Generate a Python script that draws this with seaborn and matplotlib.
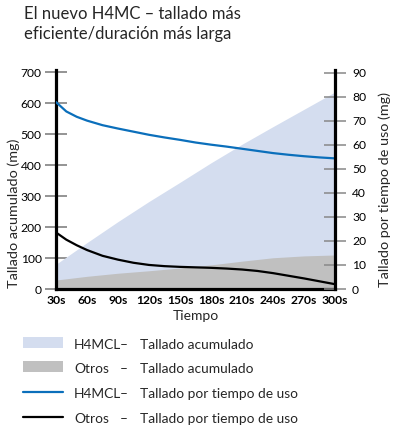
import numpy as np
import pandas as pd
import matplotlib
matplotlib.use("Agg")
import matplotlib.pyplot as plt
import seaborn as sns
from matplotlib.patches import Rectangle
from matplotlib.lines import Line2D

# ---- data ----
fill_time = [30, 60, 90, 120, 150, 180, 210, 240, 270, 300]
h4mcl_cum = [80, 150, 218, 283, 345, 408, 468, 525, 581, 637]      # mg, left axis
otros_cum = [29, 41, 51, 59, 68, 78, 90, 101, 107, 110]            # mg, left axis

line_time = [30, 40, 50, 60, 75, 90, 105, 120, 135, 150, 165, 180, 195,
             210, 225, 240, 255, 270, 285, 300]
h4mcl_rate = [77.7, 73.8, 71.6, 70.0, 68.1, 66.7, 65.4, 64.1, 63.0, 62.0, 60.9,
              60.0, 59.2, 58.3, 57.4, 56.5, 55.8, 55.2, 54.7, 54.3]
otros_rate = [23.5, 20.5, 18.2, 16.2, 13.8, 12.2, 10.9, 10.0, 9.5, 9.2, 9.0,
              8.8, 8.5, 8.1, 7.5, 6.6, 5.5, 4.4, 3.2, 2.0]

x_ticks = [30, 60, 90, 120, 150, 180, 210, 240, 270, 300]
x_tick_labels = ["30s", "60s", "90s", "120s", "150s", "180s", "210s", "240s", "270s", "300s"]
left_ticks = [0, 100, 200, 300, 400, 500, 600, 700]
right_ticks = [0, 10, 20, 30, 40, 50, 60, 70, 80, 90]

title = "El nuevo H4MC – tallado más\neficiente/duración más larga"
legend_names = ["H4MCL", "Otros", "H4MCL", "Otros"]
legend_desc = ["Tallado acumulado", "Tallado acumulado",
               "Tallado por tiempo de uso", "Tallado por tiempo de uso"]

# ---- style ----
sns.set_style("white")
FONT = ["Lato", "DejaVu Sans"]
plt.rcParams["font.family"] = FONT

LIGHT = "#d4ddef"
GRAY = "#c0c0c0"
BLUE = "#0b6fbb"

W, H = 396, 428
fig = plt.figure(figsize=(W / 100, H / 100), dpi=100)
L, R, T, B = 56, 335, 70, 289
ax = fig.add_axes([L / W, 1 - B / H, (R - L) / W, (B - T) / H])
ax2 = ax.twinx()

ymax_left = 700 * (289 - 70) / (289 - 72.5)
ax.set_xlim(30, 300)
ax.set_ylim(0, ymax_left)
ax2.set_ylim(0, ymax_left * 90 / 700)

fill_df = pd.DataFrame({"t": fill_time, "h4": h4mcl_cum, "ot": otros_cum})
ax.fill_between(fill_df["t"], 0, fill_df["h4"], color=LIGHT, lw=0, zorder=1)
ax.fill_between(fill_df["t"], 0, fill_df["ot"], color=GRAY, lw=0, zorder=2)

line_df = pd.DataFrame({"t": line_time, "H4MCL": h4mcl_rate, "Otros": otros_rate})
sns.lineplot(data=line_df, x="t", y="H4MCL", ax=ax2, color=BLUE, lw=1.6, legend=False)
sns.lineplot(data=line_df, x="t", y="Otros", ax=ax2, color="black", lw=1.6, legend=False)

ax.set_xticks(x_ticks)
ax.set_xticklabels(x_tick_labels)
ax.set_yticks(left_ticks)
ax2.set_yticks(right_ticks)

for a in (ax, ax2):
    for s in a.spines.values():
        s.set_visible(False)
ax.spines["left"].set_visible(True)
ax.spines["bottom"].set_visible(True)
ax2.spines["right"].set_visible(True)
for s in (ax.spines["left"], ax.spines["bottom"], ax2.spines["right"]):
    s.set_linewidth(2.3)
    s.set_color("black")
    s.set_zorder(5)

ax.tick_params(axis="y", direction="inout", length=16.5, width=1.1, color="#777777",
               pad=2, labelsize=8.7, labelcolor="black")
ax2.tick_params(axis="y", direction="inout", length=16.5, width=1.1, color="#888888",
                pad=4, labelsize=8.7, labelcolor="black")
ax.tick_params(axis="x", length=0, pad=4, labelsize=8.7, labelcolor="black")
for lab in ax.get_xticklabels():
    lab.set_fontweight("bold")
ax.set_xlabel("Tiempo", fontsize=10, va="top")
ax.xaxis.set_label_coords(0.5, -0.095)
ax.set_ylabel("Tallado acumulado (mg)", fontsize=10.4, va="center", ha="left")
ax.yaxis.set_label_coords((14 - L) / (R - L), (B - 288) / (B - T))
ax2.set_ylabel("Tallado por tiempo de uso (mg)", fontsize=10.4, va="center", ha="left",
               rotation=90)
ax2.yaxis.set_label_coords((385 - L) / (R - L), (B - 287) / (B - T))
ax.set_zorder(1)
ax2.set_zorder(2)
ax2.patch.set_visible(False)

fig.text(24 / W, 1 - 6 / H, title, fontsize=12, va="top", ha="left", linespacing=1.3)

# ---- legend (manual, figure coordinates) ----
rows_y = [345, 369, 394, 419]
for i in range(4):
    yc = rows_y[i]
    if i < 2:
        fig.patches.append(Rectangle((23 / W, 1 - (yc + 3) / H), 40 / W, 11 / H,
                                     transform=fig.transFigure,
                                     color=[LIGHT, GRAY][i], lw=0))
    else:
        fig.lines.append(Line2D([23 / W, 63 / W], [1 - (yc - 2) / H] * 2,
                                transform=fig.transFigure,
                                color=[BLUE, "black"][i - 2], lw=1.6))
    fig.text(74 / W, 1 - yc / H, legend_names[i], fontsize=9.9, va="center", ha="left")
    fig.text(124 / W, 1 - yc / H, "–", fontsize=9.9, va="center", ha="center")
    fig.text(140 / W, 1 - yc / H, legend_desc[i], fontsize=9.9, va="center", ha="left")

fig.savefig("out.png", dpi=100)
